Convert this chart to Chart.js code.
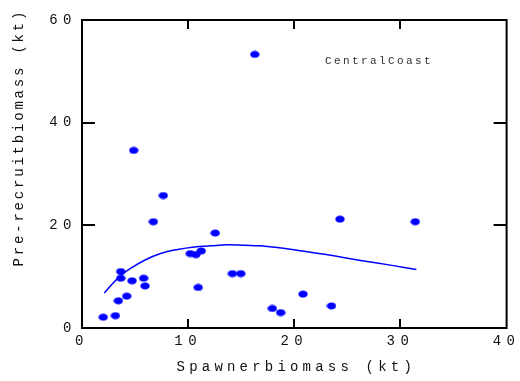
<!DOCTYPE html>
<html>
<head>
<meta charset="utf-8">
<script src="https://cdn.jsdelivr.net/npm/chart.js@4/dist/chart.umd.min.js"></script>
<style>
  html, body { margin: 0; padding: 0; background: #fff; }
  #wrap { width: 520px; height: 381px; position: relative; }
</style>
</head>
<body>
<div id="wrap"><canvas id="c" width="520" height="381"></canvas></div>
<script>
// Observations: spawner biomass (kt) vs pre-recruit biomass (kt)
const spawnerKt = [2.0, 3.15, 3.43, 4.21, 3.65, 3.65, 4.72, 5.81, 5.94, 6.72, 7.66, 10.2, 10.73, 11.23, 10.95, 12.55, 14.17, 14.96, 4.87, 16.28, 24.3, 31.4, 17.93, 18.72, 20.82, 23.5];
const recruitKt = [2.1, 2.4, 5.3, 6.2, 11.0, 9.7, 9.2, 9.7, 8.2, 20.7, 25.8, 14.5, 14.3, 15.0, 7.9, 18.5, 10.6, 10.6, 34.6, 53.3, 21.2, 20.7, 3.8, 3.0, 6.6, 4.3];

// Fitted stock-recruitment curve
const fitSpawner = [2.1, 3.0, 3.7, 4.5, 5.9, 7.4, 9.0, 10.6, 12.1, 13.7, 15.3, 16.8, 19.8, 23.0, 26.1, 29.2, 31.5];
const fitRecruit = [6.8, 8.9, 10.3, 11.5, 13.2, 14.5, 15.3, 15.8, 16.0, 16.2, 16.1, 16.0, 15.3, 14.3, 13.2, 12.2, 11.4];

const xTicks = [0, 10, 20, 30, 40];
const yTicks = [0, 20, 40, 60];
const xTitle = 'Spawnerbiomass (kt)';
const yTitle = 'Pre-recruitbiomass (kt)';
const panelLabel = 'CentralCoast';

const BLUE = '#0000ff';
const FONT = '"Liberation Mono", "DejaVu Sans Mono", monospace';

// elliptical marker
const dot = document.createElement('canvas');
dot.width = 10; dot.height = 8;
{
  const g = dot.getContext('2d');
  g.fillStyle = BLUE;
  g.beginPath();
  g.ellipse(5, 4, 4.7, 3.5, 0, 0, Math.PI * 2);
  g.fill();
}

const pointData = spawnerKt.map((s, i) => ({ x: s, y: recruitKt[i] }));
const fitData = fitSpawner.map((s, i) => ({ x: s, y: fitRecruit[i] }));

const decor = {
  id: 'decor',
  beforeDraw(chart) {
    chart.ctx.letterSpacing = '5.5px';
  },
  afterDraw(chart) {
    const ctx = chart.ctx;
    const a = chart.chartArea;
    const xs = chart.scales.x, ys = chart.scales.y;
    ctx.save();
    ctx.strokeStyle = '#000';
    ctx.lineWidth = 2;
    ctx.strokeRect(a.left, a.top, a.right - a.left, a.bottom - a.top);
    ctx.beginPath();
    xTicks.slice(1, -1).forEach(v => {
      const px = Math.round(xs.getPixelForValue(v));
      ctx.moveTo(px, a.bottom); ctx.lineTo(px, a.bottom - 9);
      ctx.moveTo(px, a.top); ctx.lineTo(px, a.top + 9);
    });
    yTicks.slice(1, -1).forEach(v => {
      const py = Math.round(ys.getPixelForValue(v));
      ctx.moveTo(a.left, py); ctx.lineTo(a.left + 13, py);
      ctx.moveTo(a.right, py); ctx.lineTo(a.right - 13, py);
    });
    ctx.stroke();

    ctx.fillStyle = '#111';
    ctx.font = '14px ' + FONT;
    ctx.textAlign = 'center';
    ctx.textBaseline = 'middle';
    ctx.letterSpacing = '4.2px';
    ctx.fillText(xTitle, (a.left + a.right) / 2 + 2, 367);
    ctx.save();
    ctx.translate(19, 139);
    ctx.rotate(-Math.PI / 2);
    ctx.letterSpacing = '2.8px';
    ctx.fillText(yTitle, 1.4, 0);
    ctx.restore();

    ctx.fillStyle = '#333';
    ctx.letterSpacing = '2.4px';
    ctx.font = '11px ' + FONT;
    ctx.textAlign = 'left';
    ctx.fillText(panelLabel, 325, 61);
    ctx.restore();
  }
};

new Chart(document.getElementById('c'), {
  type: 'scatter',
  data: {
    datasets: [
      {
        type: 'line',
        data: fitData,
        borderColor: BLUE,
        borderWidth: 1.5,
        pointRadius: 0,
        fill: false,
        tension: 0.4
      },
      {
        data: pointData,
        pointStyle: dot,
        pointRadius: 5,
        backgroundColor: BLUE,
        borderColor: BLUE,
        clip: false
      }
    ]
  },
  options: {
    responsive: false,
    animation: false,
    devicePixelRatio: 1,
    layout: { padding: { left: 0, right: 12, top: 20, bottom: 0 } },
    plugins: { legend: { display: false }, tooltip: { enabled: false } },
    scales: {
      x: {
        type: 'linear', min: 0, max: 40,
        afterBuildTicks(s) { s.ticks = xTicks.map(v => ({ value: v })); },
        afterFit(s) { s.height = 53; },
        grid: { display: false, drawTicks: false },
        border: { display: false },
        ticks: { color: '#111', font: { family: FONT, size: 14 }, padding: 5, maxRotation: 0 }
      },
      y: {
        type: 'linear', min: 0, max: 60,
        afterBuildTicks(s) { s.ticks = yTicks.map(v => ({ value: v })); },
        afterFit(s) { s.width = 82; },
        grid: { display: false, drawTicks: false },
        border: { display: false },
        ticks: { color: '#111', font: { family: FONT, size: 14 }, padding: 5 }
      }
    }
  },
  plugins: [decor]
});
</script>
</body>
</html>
